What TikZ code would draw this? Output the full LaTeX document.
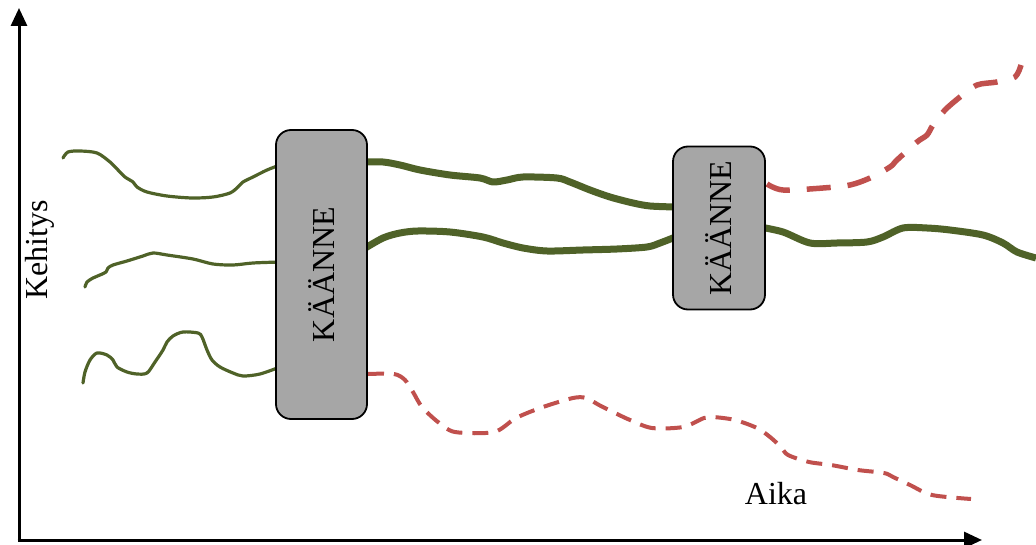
\documentclass[tikz,border=0pt]{standalone}
\usepackage{fontspec}
\setmainfont{Liberation Serif}
\usetikzlibrary{arrows.meta}
\definecolor{olive}{HTML}{4F6228}
\definecolor{redline}{HTML}{C0504D}
\definecolor{boxgray}{HTML}{A6A6A6}
\begin{document}
\begin{tikzpicture}[x=1pt,y=-1pt,
  thin green/.style={draw=olive, line width=3.2pt, line cap=round, line join=round},
  thick green/.style={draw=olive, line width=7pt, line join=round},
  red thick dash/.style={draw=redline, line width=5.5pt, dash pattern=on 24pt off 17pt},
  red thin dash/.style={draw=redline, line width=4pt, dash pattern=on 16pt off 10pt},
  turnbox/.style={draw=black, line width=1.8pt, fill=boxgray, rounded corners=15pt, inner sep=0pt},
  label/.style={font=\fontsize{32}{38}\selectfont, inner sep=0pt},
  axis/.style={draw=black, line width=3pt, -{Triangle[length=18pt,width=16pt]}}
]
\useasboundingbox (0,0) rectangle (1036,545);

% axes
\coordinate (origin) at (19,540);
\coordinate (ytip) at (19,8);
\coordinate (xtip) at (982,540);
\draw[axis] (origin) -- (ytip);
\draw[axis] ([xshift=-1.5pt]origin) -- (xtip);

% left thin curves
\draw[thin green] plot[smooth, tension=0.5] coordinates {(63,158) (68,152) (80,151) (97,153) (110,162) (118,170) (125,177) (133,182) (137,187) (147,192) (167,196) (192,198) (213,197) (230,193) (238,187) (243,182) (253,177) (267,170) (280,165)};
\draw[thin green] plot[smooth, tension=0.5] coordinates {(85,287) (87,282) (93,278) (100,275) (106,272) (108,268) (113,265) (127,261) (143,256) (153,253) (167,255) (193,259) (213,264) (233,265) (253,263) (280,262)};
\draw[thin green] plot[smooth, tension=0.5] coordinates {(83,383) (85,372) (90,360) (97,353) (107,355) (113,360) (117,367) (127,372) (137,374) (147,373) (155,362) (163,350) (167,342) (173,336) (183,332) (198,333) (202,337) (207,350) (212,360) (220,367) (233,373) (243,376) (260,374) (280,367)};

% middle thick curves
\draw[thick green] plot[smooth, tension=0.5] coordinates {(362,162) (383,162) (400,165) (420,170) (450,175) (480,178) (493,182) (507,180) (523,177) (557,178) (570,182) (590,190) (610,197) (633,203) (650,206) (675,207)};
\draw[thick green] plot[smooth, tension=0.5] coordinates {(362,250) (383,238) (400,233) (418,231) (450,232) (483,237) (503,243) (523,248) (547,251) (583,250) (617,249) (647,247) (660,243) (678,236)};

% right thick curve
\draw[thick green] plot[smooth, tension=0.5] coordinates {(760,227) (783,232) (810,243) (837,243) (867,242) (883,237) (903,228) (927,228) (950,230) (983,235) (1003,243) (1017,252) (1036,258)};

% red dashed curves
\draw[red thick dash] plot[smooth, tension=0.5] coordinates {(767,184) (783,190) (823,188) (850,185) (870,178) (890,167) (897,160) (917,142) (927,135) (933,125) (945,110) (960,97) (977,85) (997,82) (1015,77) (1021,65)};
\draw[red thin dash] plot[smooth, tension=0.5] coordinates {(368,374) (394,374) (405,380) (413,392) (422,407) (438,422) (455,432) (494,432) (516,418) (543,407) (573,398) (586,398) (599,405) (613,412) (630,420) (652,428) (683,427) (704,418) (713,417) (735,420) (757,428) (770,437) (781,447) (788,455) (809,462) (831,465) (858,470) (884,473) (893,477) (910,485) (932,495) (971,499)};

% boxes
\node[turnbox, minimum width=91pt, minimum height=289pt] (box1) at (321.5,274.5) {};
\node[label, rotate=90] (t1) at (box1.center) {KÄÄNNE};
\node[turnbox, minimum width=92pt, minimum height=163pt] (box2) at (719,228) {};
\node[label, rotate=90] (t2) at (box2.center) {KÄÄNNE};

% axis labels
\node[label, rotate=90] (kehitys) at (40,250) {Kehitys};
\node[label] (aika) at (776,494) {Aika};
\end{tikzpicture}
\end{document}
